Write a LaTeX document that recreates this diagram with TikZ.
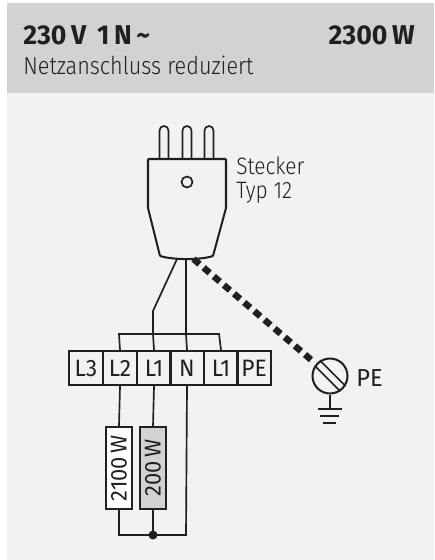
\documentclass[tikz,border=0pt]{standalone}
\usepackage{fontspec}
\setmainfont{Fira Sans Light}[FakeStretch=0.88]
\newfontfamily\regfont{Fira Sans}[FakeStretch=0.96]
\newfontfamily\headfont{Fira Sans Bold}[FakeStretch=0.98]
\usetikzlibrary{positioning}
\definecolor{headgray}{HTML}{D0D2D3}
\definecolor{panelgray}{HTML}{F1F2F4}
\definecolor{inkblack}{HTML}{231F20}
\tikzset{
    wire/.style={draw=inkblack,line width=0.95pt},
    box line/.style={draw=inkblack,line width=1.15pt},
    terminal/.style={box line,minimum width=0.68cm,minimum height=0.68cm,inner sep=0pt,text=inkblack,font=\regfont\fontsize{13.5}{13.5}\selectfont,anchor=north west},
    heater/.style={box line,minimum width=1.64cm,minimum height=0.52cm,inner sep=0pt,text=inkblack,font=\regfont\fontsize{13}{13}\selectfont,rotate=90},
    label/.style={inner sep=0pt,text=inkblack,anchor=west},
}
\begin{document}
\begin{tikzpicture}[x=0.02cm,y=-0.02cm]
    \useasboundingbox (0,0) rectangle (434,560);
    \fill[panelgray] (7,3) rectangle (434,560);
    \fill[headgray] (7,3) rectangle (434,93);
    \node[label,font=\headfont\fontsize{15.5}{15.5}\selectfont] (power) at (23,35) {230\,V\, 1\,N\,\char"007E};
    \node[label,font=\headfont\fontsize{15.5}{15.5}\selectfont,anchor=east] (total) at (415,35) {2300\,W};
    \node[label,font=\fontsize{14}{14}\selectfont] (grid) at (23,65) {Netzanschluss reduziert};
    % plug
    \draw[box line,rounded corners=0.5pt] (148,159) -- (226,159) -- (226,208) -- (213,256) .. controls (200,260) and (174,260) .. (160,256) -- (148,208) -- cycle;
    \foreach \px in {164,187,209} {
        \draw[wire] (\px-4.5,159) -- (\px-4.5,130.5) arc (180:360:4.5) -- (\px+4.5,159);
    }
    \node[draw=inkblack,line width=0.95pt,circle,minimum size=0.22cm,inner sep=0pt] (hole) at (187,182) {};
    \node[label,font=\fontsize{13.5}{14}\selectfont,align=left] (plug) at (236,180) {Stecker\\Typ 12};
    % terminals
    \foreach \tname/\tx/\ttext in {tA/68/L3,tB/102/L2,tC/136/L1,tD/169/N,tE/203/L1,tF/236/PE} {
        \node[terminal] (\tname) at (\tx,350) {\ttext};
    }
    \coordinate (plugA) at (177,259);
    \coordinate (plugB) at (186,259);
    \coordinate (plugC) at (193.5,259);
    \coordinate (busB) at (119,334);
    \coordinate (busC) at (153,334);
    \coordinate (busD) at (186,334);
    \coordinate (busE) at (219,334);
    \draw[wire] (plugA) -- (153,311) -- (busC) -- (tC.north);
    \draw[wire] (plugB) -- (busD) -- (tD.north);
    \draw[wire] (tB.north) -- (busB) -- (busE) -- (tE.north);
    % heaters
    \node[heater,fill=white] (loadA) at (119,468) {2100\,W};
    \node[heater,fill=headgray] (loadB) at (153,468) {200\,W};
    \coordinate (botA) at (119,535);
    \coordinate (botB) at (153,535);
    \coordinate (botD) at (186,535);
    \draw[wire] (tB.south) -- (loadA.east);
    \draw[wire] (tC.south) -- (loadB.east);
    \draw[wire] (loadA.west) -- (botA) -- (botD) -- (tD.south);
    \draw[wire] (loadB.west) -- (botB);
    \fill[inkblack] (botB) circle (4.5);
    % protective earth
    \node[box line,circle,minimum size=0.7cm,inner sep=0pt] (pe) at (330,376) {};
    \draw[wire] (pe.123.5) -- (pe.-33.5);
    \draw[wire] (pe.146.5) -- (pe.-56.5);
    \draw[draw=inkblack,line width=3.7pt,dash pattern=on 4.5pt off 3.1pt,shorten >=2.5pt] (plugC) -- (pe);
    \node[label,font=\regfont\fontsize{14}{14}\selectfont] (pelabel) at (356,378) {PE};
    \coordinate (earth) at (330,409);
    \draw[wire] (pe.south) -- (earth);
    \draw[wire] (318,409) -- (342,409);
    \draw[wire] (320,416) -- (339,416);
    \draw[wire] (323,423) -- (336,423);
\end{tikzpicture}
\end{document}
